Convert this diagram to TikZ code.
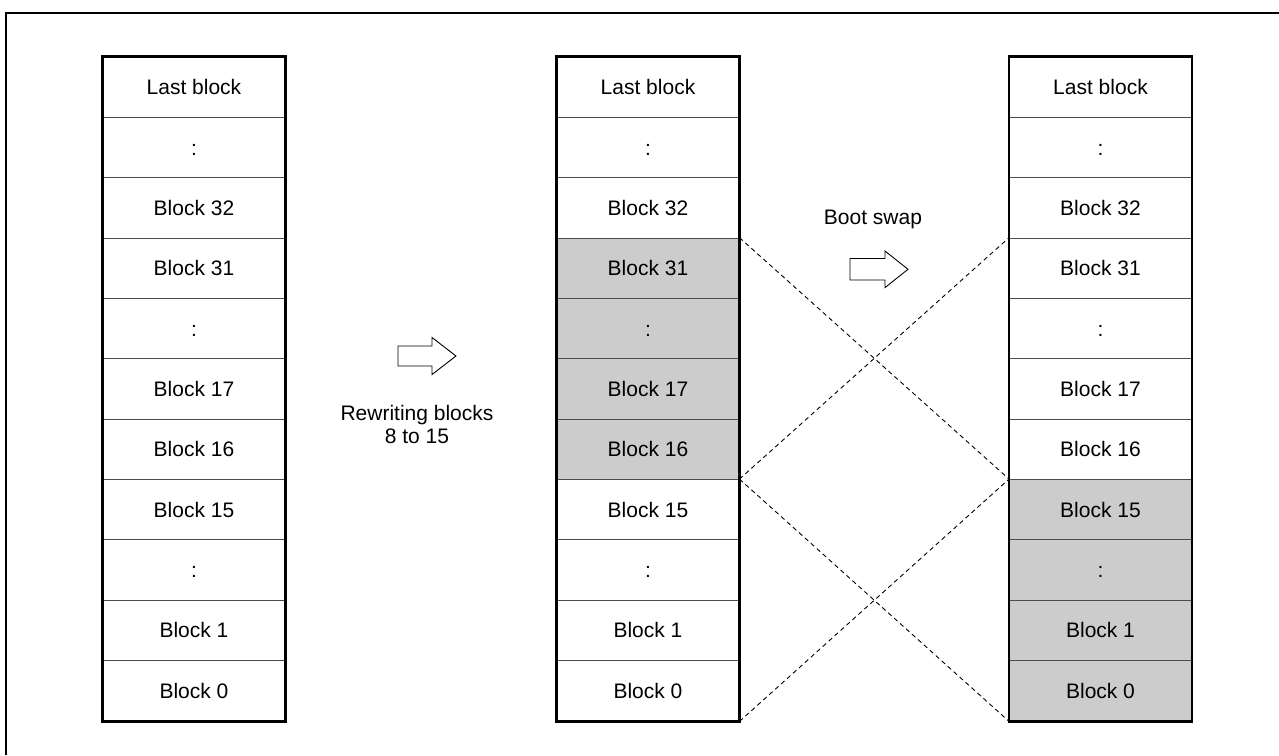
\documentclass[tikz,border=0pt]{standalone}
\usepackage{fontspec}
\setmainfont{Liberation Sans}
\begin{document}
\begin{tikzpicture}[x=1pt,y=-1pt,
  cell/.style={draw=black!70, line width=0.9pt, minimum width=182pt, minimum height=60.36pt,
    inner sep=0pt, text height=15pt, text depth=0pt, font=\fontsize{21}{25}\selectfont},
  colframe/.style={draw=black, line width=2.6pt},
  swapline/.style={line width=0.9pt, dash pattern=on 4.5pt off 3.5pt},
  bigarrow/.style={draw=black, line width=0.9pt, fill=white},
  lbl/.style={font=\fontsize{21}{23}\selectfont, inner sep=0pt}
]
\useasboundingbox (0,0) rectangle (1279,755);
\draw[line width=2.6pt] (6,755) -- (6,13) -- (1279,13);

% left column
\foreach \i/\t/\f in {0/Last block/white,1/:/white,2/Block 32/white,3/Block 31/white,4/:/white,
  5/Block 17/white,6/Block 16/white,7/Block 15/white,8/:/white,9/Block 1/white,10/Block 0/white}{
  \node[cell, fill=\f] (L\i) at (194,{87.18+60.36*\i}) {\t};
}
% middle column
\foreach \i/\t/\f in {0/Last block/white,1/:/white,2/Block 32/white,3/Block 31/black!20,4/:/black!20,
  5/Block 17/black!20,6/Block 16/black!20,7/Block 15/white,8/:/white,9/Block 1/white,10/Block 0/white}{
  \node[cell, fill=\f] (M\i) at (648,{87.18+60.36*\i}) {\t};
}
% right column
\foreach \i/\t/\f in {0/Last block/white,1/:/white,2/Block 32/white,3/Block 31/white,4/:/white,
  5/Block 17/white,6/Block 16/white,7/Block 15/black!20,8/:/black!20,9/Block 1/black!20,10/Block 0/black!20}{
  \node[cell, fill=\f] (R\i) at (1100.5,{87.18+60.36*\i}) {\t};
}
\draw[colframe] (L0.north west) rectangle (L10.south east);
\draw[colframe] (M0.north west) rectangle (M10.south east);
\draw[colframe] (R0.north west) rectangle (R10.south east);

% swap lines
\draw[swapline] (M3.north east) -- (R7.north west);
\draw[swapline] (M7.north east) -- (R3.north west);
\draw[swapline] (M7.north east) -- (R10.south west);
\draw[swapline] (M10.south east) -- (R7.north west);

% arrows
\draw[bigarrow] (398,346) -- (432,346) -- (432,337.5) -- (456,356) -- (432,374.5) -- (432,366) -- (398,366) -- cycle;
\draw[bigarrow] (850,258.5) -- (885,258.5) -- (885,251) -- (908,269.3) -- (885,287.6) -- (885,280) -- (850,280) -- cycle;

\node[lbl, text height=15pt, text depth=0pt] (bootswap) at (873,217) {Boot swap};
\node[lbl, align=center] (rewrite) at (417,424.5) {Rewriting blocks\\8 to 15};
\end{tikzpicture}
\end{document}
